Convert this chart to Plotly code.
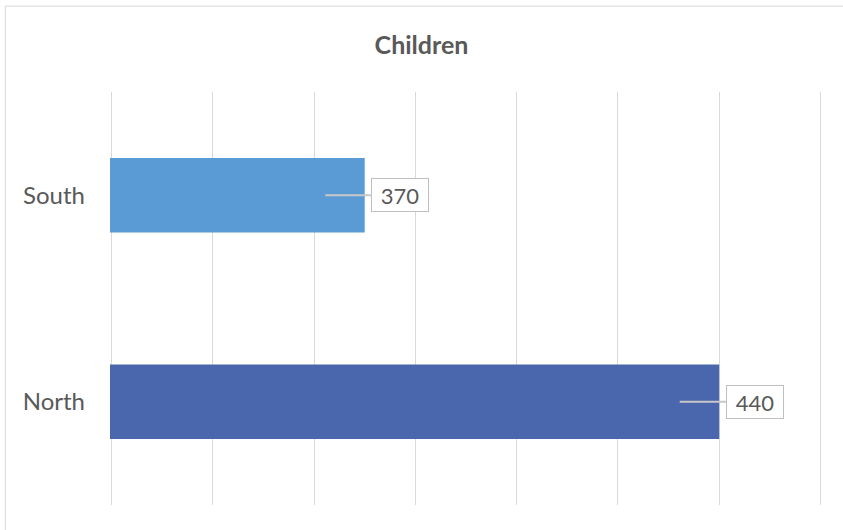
import plotly.graph_objects as go

categories = ["North", "South"]
values = [440, 370]
colors = ["#4A66AC", "#5B9BD5"]
title = "Children"
x_min, x_max, x_step = 320, 460, 20

FONT = "Lato, Open Sans, sans-serif"
PAD = 0.3  # small range padding so edge gridlines get drawn

fig = go.Figure()
fig.add_trace(go.Bar(
    y=categories, x=values, orientation="h",
    marker=dict(color=colors, line=dict(width=0)),
    width=0.36, showlegend=False, hoverinfo="x+y",
))

for cat, v in zip(categories, values):
    fig.add_annotation(
        x=v - 7.8, y=cat, xref="x", yref="y",
        text=str(v), showarrow=True, arrowhead=0, arrowwidth=2,
        arrowcolor="#C8C8C8", ax=75, ay=0,
        width=48, height=24, align="center",
        bgcolor="white", bordercolor="#BFBFBF", borderwidth=1, borderpad=4,
        font=dict(family=FONT, size=22, color="#595959"),
    )

fig.add_shape(type="rect", xref="paper", yref="paper",
              x0=-0.1470, x1=1.2, y0=-0.3, y1=1.208,
              line=dict(color="#D9D9D9", width=1), fillcolor="rgba(0,0,0,0)", layer="below")

fig.update_layout(
    width=843, height=530,
    margin=dict(l=109.5, r=20.5, t=92, b=25),
    paper_bgcolor="white", plot_bgcolor="white",
    title=dict(text="<b>" + title + "</b>", x=0.5, xanchor="center", y=0.915, yanchor="middle",
               font=dict(family=FONT, size=25, color="#595959")),
    xaxis=dict(range=[x_min - PAD, x_max + PAD], tick0=x_min, dtick=x_step, showticklabels=False,
               showgrid=True, gridcolor="#D9D9D9", gridwidth=1.3, zeroline=False,
               showline=False, fixedrange=True),
    yaxis=dict(categoryorder="array", categoryarray=categories, showgrid=False,
               tickfont=dict(family=FONT, size=24, color="#595959"),
               ticks="", ticklabelstandoff=24, showline=False, zeroline=False),
)

fig.write_html("out.html")
